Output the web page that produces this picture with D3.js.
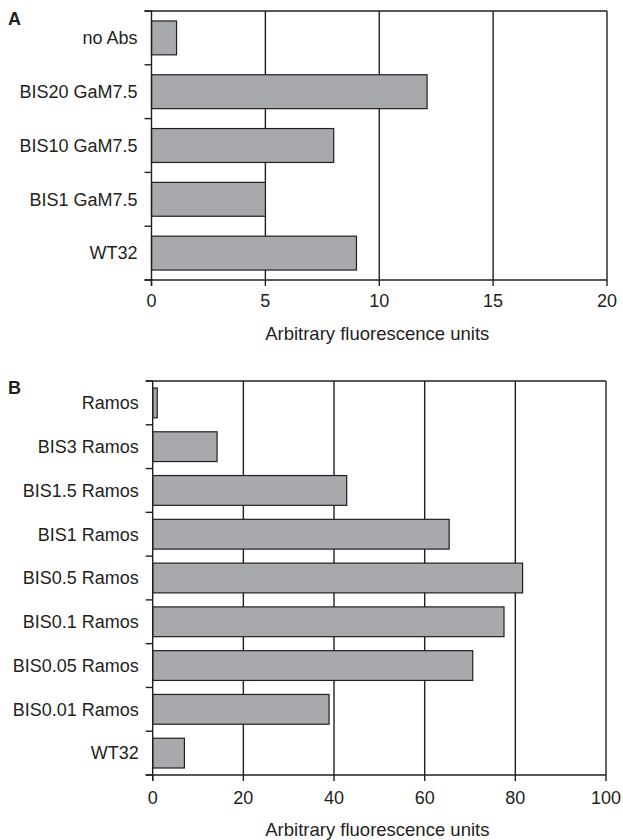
<!DOCTYPE html>
<html>
<head>
<meta charset="utf-8">
<script src="https://cdn.jsdelivr.net/npm/d3@7"></script>
<style>
  html, body { margin: 0; padding: 0; background: #fff; }
  svg { display: block; }
  text { font-family: "Liberation Sans", Arial, sans-serif; fill: #231f20; }
</style>
</head>
<body>
<script>
// ---- Data ----
const categoriesA = ["no Abs", "BIS20 GaM7.5", "BIS10 GaM7.5", "BIS1 GaM7.5", "WT32"];
const valuesA = [1.1, 12.1, 8.0, 5.0, 9.0];
const ticksA = [0, 5, 10, 15, 20];

const categoriesB = ["Ramos", "BIS3 Ramos", "BIS1.5 Ramos", "BIS1 Ramos", "BIS0.5 Ramos",
                     "BIS0.1 Ramos", "BIS0.05 Ramos", "BIS0.01 Ramos", "WT32"];
const valuesB = [1.0, 14.2, 42.8, 65.4, 81.6, 77.5, 70.6, 38.9, 7.0];
const ticksB = [0, 20, 40, 60, 80, 100];

const axisTitle = "Arbitrary fluorescence units";

const W = 623, H = 840;
const ink = "#231f20";
const barFill = "#a7a9ac";

const svg = d3.select("body").append("svg")
  .attr("width", W).attr("height", H);

function panel(opts) {
  const { label, labelY, cats, vals, ticks, left, right, top, bottom, pad, titleY, tickLabelY } = opts;
  const g = svg.append("g");
  const x = d3.scaleLinear().domain([ticks[0], ticks[ticks.length - 1]]).range([left, right]);
  const y = d3.scaleBand().domain(cats).range([top, bottom]).paddingInner(pad).paddingOuter(pad / 2);

  // gridlines (non-zero ticks)
  g.selectAll("line.grid").data(ticks.filter(t => t !== 0)).join("line")
    .attr("class", "grid")
    .attr("x1", d => x(d)).attr("x2", d => x(d))
    .attr("y1", top).attr("y2", bottom)
    .attr("stroke", ink).attr("stroke-width", 1.4);

  // bars
  g.selectAll("rect.bar").data(cats).join("rect")
    .attr("class", "bar")
    .attr("x", x(0))
    .attr("y", d => y(d))
    .attr("width", (d, i) => x(vals[i]) - x(0))
    .attr("height", y.bandwidth())
    .attr("fill", barFill)
    .attr("stroke", ink).attr("stroke-width", 1.2);

  // frame: top line, left axis line, bottom axis line
  g.append("line").attr("x1", left - 7).attr("x2", right).attr("y1", top).attr("y2", top)
    .attr("stroke", ink).attr("stroke-width", 1.4);
  g.append("line").attr("x1", left - 7).attr("x2", right).attr("y1", bottom).attr("y2", bottom)
    .attr("stroke", ink).attr("stroke-width", 1.4);
  g.append("line").attr("x1", left).attr("x2", left).attr("y1", top).attr("y2", bottom + 6)
    .attr("stroke", ink).attr("stroke-width", 1.4);

  // category boundary ticks
  const bounds = d3.range(cats.length + 1).map(i => top + i * y.step());
  g.selectAll("line.ytick").data(bounds).join("line")
    .attr("class", "ytick")
    .attr("x1", left - 7).attr("x2", left)
    .attr("y1", d => d).attr("y2", d => d)
    .attr("stroke", ink).attr("stroke-width", 1.4);

  // x ticks
  g.selectAll("line.xtick").data(ticks).join("line")
    .attr("class", "xtick")
    .attr("x1", d => x(d)).attr("x2", d => x(d))
    .attr("y1", bottom).attr("y2", bottom + 6)
    .attr("stroke", ink).attr("stroke-width", 1.4);

  g.selectAll("text.xl").data(ticks).join("text")
    .attr("class", "xl")
    .attr("x", d => x(d)).attr("y", tickLabelY)
    .attr("text-anchor", "middle")
    .attr("font-size", 18)
    .text(d => d);

  // category labels
  g.selectAll("text.yl").data(cats).join("text")
    .attr("class", "yl")
    .attr("x", left - 14)
    .attr("y", d => y(d) + y.bandwidth() / 2)
    .attr("dy", "0.35em")
    .attr("text-anchor", "end")
    .attr("font-size", 18)
    .text(d => d);

  // axis title
  g.append("text")
    .attr("x", (left + right) / 2 - 2).attr("y", titleY)
    .attr("text-anchor", "middle")
    .attr("font-size", 18.5)
    .text(axisTitle);

  // panel letter
  g.append("text")
    .attr("x", 8).attr("y", labelY)
    .attr("font-size", 18).attr("font-weight", "bold")
    .text(label);
}

panel({ label: "A", labelY: 25, cats: categoriesA, vals: valuesA, ticks: ticksA,
        left: 151.5, right: 607, top: 11, bottom: 280, pad: 0.37,
        tickLabelY: 307, titleY: 340 });

panel({ label: "B", labelY: 394, cats: categoriesB, vals: valuesB, ticks: ticksB,
        left: 152.7, right: 606, top: 381, bottom: 775, pad: 0.32,
        tickLabelY: 804, titleY: 836 });
</script>
</body>
</html>
